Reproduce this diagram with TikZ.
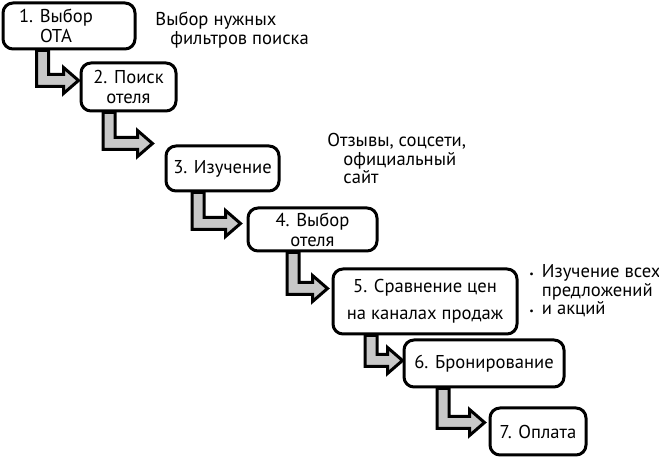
\documentclass[tikz,border=0pt]{standalone}
\usepackage{fontspec}
\setmainfont{PT Sans}
\usepackage{xcolor}
\definecolor{cLine}{HTML}{000000}
\definecolor{cFill}{HTML}{C8C8C8}
\usepackage{tikz}
\usetikzlibrary{calc,backgrounds}
\tikzset{
  node-step/.style={draw=cLine,line width=1.5pt,rounded corners=5pt,fill=white,
    align=center,inner sep=0pt,font=\fontsize{9.3}{10}\selectfont},
  node-note/.style={align=left,inner sep=0pt,font=\fontsize{9.3}{9.3}\selectfont},
  arrow-step/.style={draw=cLine,line width=1.5pt,fill=cFill,line join=miter},
}
% L-shaped block arrow: from node, x from its left edge, to node,
% y of the shaft below its top, tip x from its left edge
\newcommand{\stepflow}[5]{%
  \draw[arrow-step] ($(#1.south west)+(#2,0)$) coordinate (from-#1)
    -- ++(12,0) |- ($(#3.north west)+(#5-15,#4-6)$)
    -- ++(0,-7) -- ++(15,13) -- ++(-15,13) -- ++(0,-7)
    -| (from-#1) -- cycle;}

\begin{document}
\begin{tikzpicture}[x=0.5pt,y=-0.5pt]
  \useasboundingbox (0,0) rectangle (659,459);
  % steps
  \node[node-step,minimum width=66pt,minimum height=23pt]   (s1) at (69,26)
    {1. Выбор\hspace*{13pt}\\ОТА\hspace*{13pt}};
  \node[node-step,minimum width=47.5pt,minimum height=24pt] (s2) at (128.5,87)
    {2. Поиск\\отеля};
  \node[node-step,minimum width=56.5pt,minimum height=22.5pt] (s3) at (222.5,168.5)
    {3. Изучение};
  \node[node-step,minimum width=64.5pt,minimum height=21.5pt] (s4) at (312.5,229.5)
    {4. Выбор\\отеля};
  \node[node-step,minimum width=92pt,minimum height=32.5pt] (s5) at (425,301.5)
    {5. Сравнение цен\\[3.5pt]на каналах продаж};
  \node[node-step,minimum width=80pt,minimum height=23.5pt] (s6) at (484,363.5)
    {6. Бронирование};
  \node[node-step,minimum width=48pt,minimum height=23.5pt] (s7) at (538,431.5)
    {7. Оплата};
  % notes
  \node[node-note,anchor=north west] (n1) at (155,12)
    {Выбор нужных\\\hspace*{7.5pt}фильтров поиска};
  \node[node-note,anchor=north west] (n2) at (327,133)
    {Отзывы, соцсети,\\\hspace*{8pt}официальный\\\hspace*{8pt}сайт};
  \node[node-note,anchor=north west] (n3) at (529,264)
    {\begin{tabular}[t]{@{}l@{\hspace{4pt}}l@{}}
      {\tiny\textbullet} & Изучение всех\\
                         & предложений\\
      {\tiny\textbullet} & и акций
     \end{tabular}};
  % arrows
  \begin{scope}[on background layer]
    \stepflow{s1}{35}{s2}{19}{-1}
    \stepflow{s2}{23.5}{s3}{-1}{-12}
    \stepflow{s3}{27.5}{s4}{17}{-6}
    \stepflow{s4}{40.5}{s5}{21}{-4}
    \stepflow{s5}{33.5}{s6}{22}{0}
    \stepflow{s6}{34.5}{s7}{16}{-4}
  \end{scope}
\end{tikzpicture}
\end{document}
